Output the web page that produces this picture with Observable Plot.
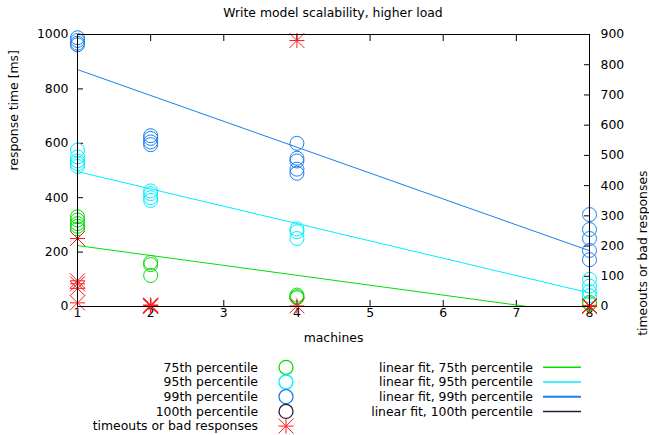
<!DOCTYPE html>
<html><head><meta charset="utf-8">
<script src="https://cdn.jsdelivr.net/npm/d3@7"></script>
<script src="https://cdn.jsdelivr.net/npm/@observablehq/plot@0.6"></script>
<style>
body{margin:0;background:#fff;font-family:"DejaVu Sans",sans-serif;}
#wrap{position:relative;width:649px;height:435px;overflow:hidden;background:#fff}
#title{position:absolute;left:77px;width:512px;top:0;height:26px;line-height:26px;text-align:center;font-size:12.4px;color:#000}
#chart{position:absolute;left:0;top:26px}
#legend{position:absolute;left:0;top:354px}
</style></head><body>
<div id="wrap"><div id="title">Write model scalability, higher load</div><div id="chart"></div><div id="legend"></div></div>
<script>
// [machines, response time ms]
const p75 = [[1,330],[1,318],[1,305],[1,295],[1,285],[2,162],[2,154],[2,114],[4,42],[4,36],[4,32],[8,15],[8,10]];
const p95 = [[1,575],[1,550],[1,535],[1,525],[1,515],[2,425],[2,415],[2,400],[2,390],[4,285],[4,275],[4,250],[8,100],[8,75],[8,55],[8,40]];
const p99 = [[1,988],[1,978],[1,968],[1,962],[2,628],[2,618],[2,605],[2,595],[4,600],[4,545],[4,535],[4,505],[4,490],[8,338],[8,283],[8,250],[8,206],[8,172]];
// [machines, count] on right axis
const timeouts = [[1,225],[1,85],[1,75],[1,60],[1,12],[2,3],[2,0],[2,5],[2,2],[4,880],[4,2],[8,0],[8,3]];
// linear fit endpoints [machines, ms]
const fit75 = [[1,224],[8,-31]];
const fit95 = [[1,496],[8,50]];
const fit99 = [[1,871],[8,205]];
const xTicks = [1,2,3,4,5,6,7,8];
const yTicks = [0,200,400,600,800,1000];
const y2Ticks = [0,100,200,300,400,500,600,700,800,900];
const y2Max = 900, yMax = 1000;
const legendLeft = ["75th percentile","95th percentile","99th percentile","100th percentile","timeouts or bad responses"];
const legendRight = ["linear fit, 75th percentile","linear fit, 95th percentile","linear fit, 99th percentile","linear fit, 100th percentile"];

const C = {g:"#00e000", c:"#00eeff", b:"#1a80ee", k:"#202038", r:"#ff1a1a"};
const FS = 12.4;
const toY = v => v * yMax / y2Max;

const asterisk = {draw(ctx, size){
  const s = Math.sqrt(size/Math.PI);
  ctx.moveTo(-s,0); ctx.lineTo(s,0);
  ctx.moveTo(0,-s); ctx.lineTo(0,s);
  ctx.moveTo(-s,-s); ctx.lineTo(s,s);
  ctx.moveTo(-s,s); ctx.lineTo(s,-s);
}};

const chart = Plot.plot({
  width: 649, height: 328,
  marginLeft: 77, marginRight: 60, marginTop: 8, marginBottom: 48,
  style: {fontFamily: "DejaVu Sans", fontSize: FS + "px", color: "#000", background: "#fff"},
  x: {domain: [1,8]},
  y: {domain: [0,1000]},
  marks: [
    Plot.axisX({ticks: xTicks, tickSize: -6, tickPadding: 8, tickFormat: d => String(d), label: null}),
    Plot.axisX({anchor: "top", ticks: xTicks, tickSize: -6, tickFormat: () => "", label: null}),
    Plot.axisY({ticks: yTicks, tickSize: -6, tickPadding: 15, tickFormat: d => String(d), label: null}),
    Plot.axisY({anchor: "right", ticks: y2Ticks.map(toY), tickSize: -6, tickPadding: 17, tickFormat: d => String(Math.round(d*y2Max/yMax)), label: null}),
    Plot.line(fit75, {x: d=>d[0], y: d=>d[1], stroke: C.g, strokeWidth: 1, clip: true}),
    Plot.line(fit95, {x: d=>d[0], y: d=>d[1], stroke: C.c, strokeWidth: 1, clip: true}),
    Plot.line(fit99, {x: d=>d[0], y: d=>d[1], stroke: C.b, strokeWidth: 1, clip: true}),
    Plot.dot(p75, {x: d=>d[0], y: d=>d[1], r: 7, stroke: C.g, strokeWidth: 1}),
    Plot.dot(p95, {x: d=>d[0], y: d=>d[1], r: 7, stroke: C.c, strokeWidth: 1}),
    Plot.dot(p99, {x: d=>d[0], y: d=>d[1], r: 7, stroke: C.b, strokeWidth: 1}),
    Plot.dot(timeouts, {x: d=>d[0], y: d=>toY(d[1]), r: 7.5, symbol: asterisk, stroke: C.r, strokeWidth: 1}),
    Plot.frame({stroke: "#000", strokeWidth: 1}),
    Plot.text(["response time [ms]"], {frameAnchor: "left", rotate: -90, dx: -63, fontSize: FS, fill: "#000"}),
    Plot.text(["timeouts or bad responses"], {frameAnchor: "right", rotate: -90, dx: 54, fontSize: FS, fill: "#000"}),
    Plot.text(["machines"], {frameAnchor: "bottom", dy: 35, fontSize: FS, fill: "#000"})
  ]
});
document.getElementById("chart").appendChild(chart);

// legend
const lg = d3.select("#legend").append("svg").attr("width",649).attr("height",81)
  .style("font-family","DejaVu Sans").style("font-size",FS + "px");
const rowY = i => 13.3 + i*14.7;
const leftCols = [C.g, C.c, C.b, C.k, C.r];
legendLeft.forEach((t,i) => {
  lg.append("text").attr("x",258).attr("y",rowY(i)).attr("dy","0.35em").attr("text-anchor","end").attr("fill","#000").text(t);
  if (i < 4) lg.append("circle").attr("cx",286).attr("cy",rowY(i)).attr("r",7).attr("fill","none").attr("stroke",leftCols[i]).attr("stroke-width",1.3);
  else lg.append("path").attr("transform",`translate(286,${rowY(i)})`).attr("d",d3.symbol(asterisk, Math.PI*7.5*7.5)()).attr("fill","none").attr("stroke",C.r);
});
const rightCols = [C.g, C.c, C.b, C.k];
legendRight.forEach((t,i) => {
  lg.append("text").attr("x",533).attr("y",rowY(i)).attr("dy","0.35em").attr("text-anchor","end").attr("fill","#000").text(t);
  lg.append("line").attr("x1",543).attr("x2",581).attr("y1",rowY(i)).attr("y2",rowY(i)).attr("stroke",rightCols[i]).attr("stroke-width", i===2?2:1.5);
});
</script>
</body></html>
